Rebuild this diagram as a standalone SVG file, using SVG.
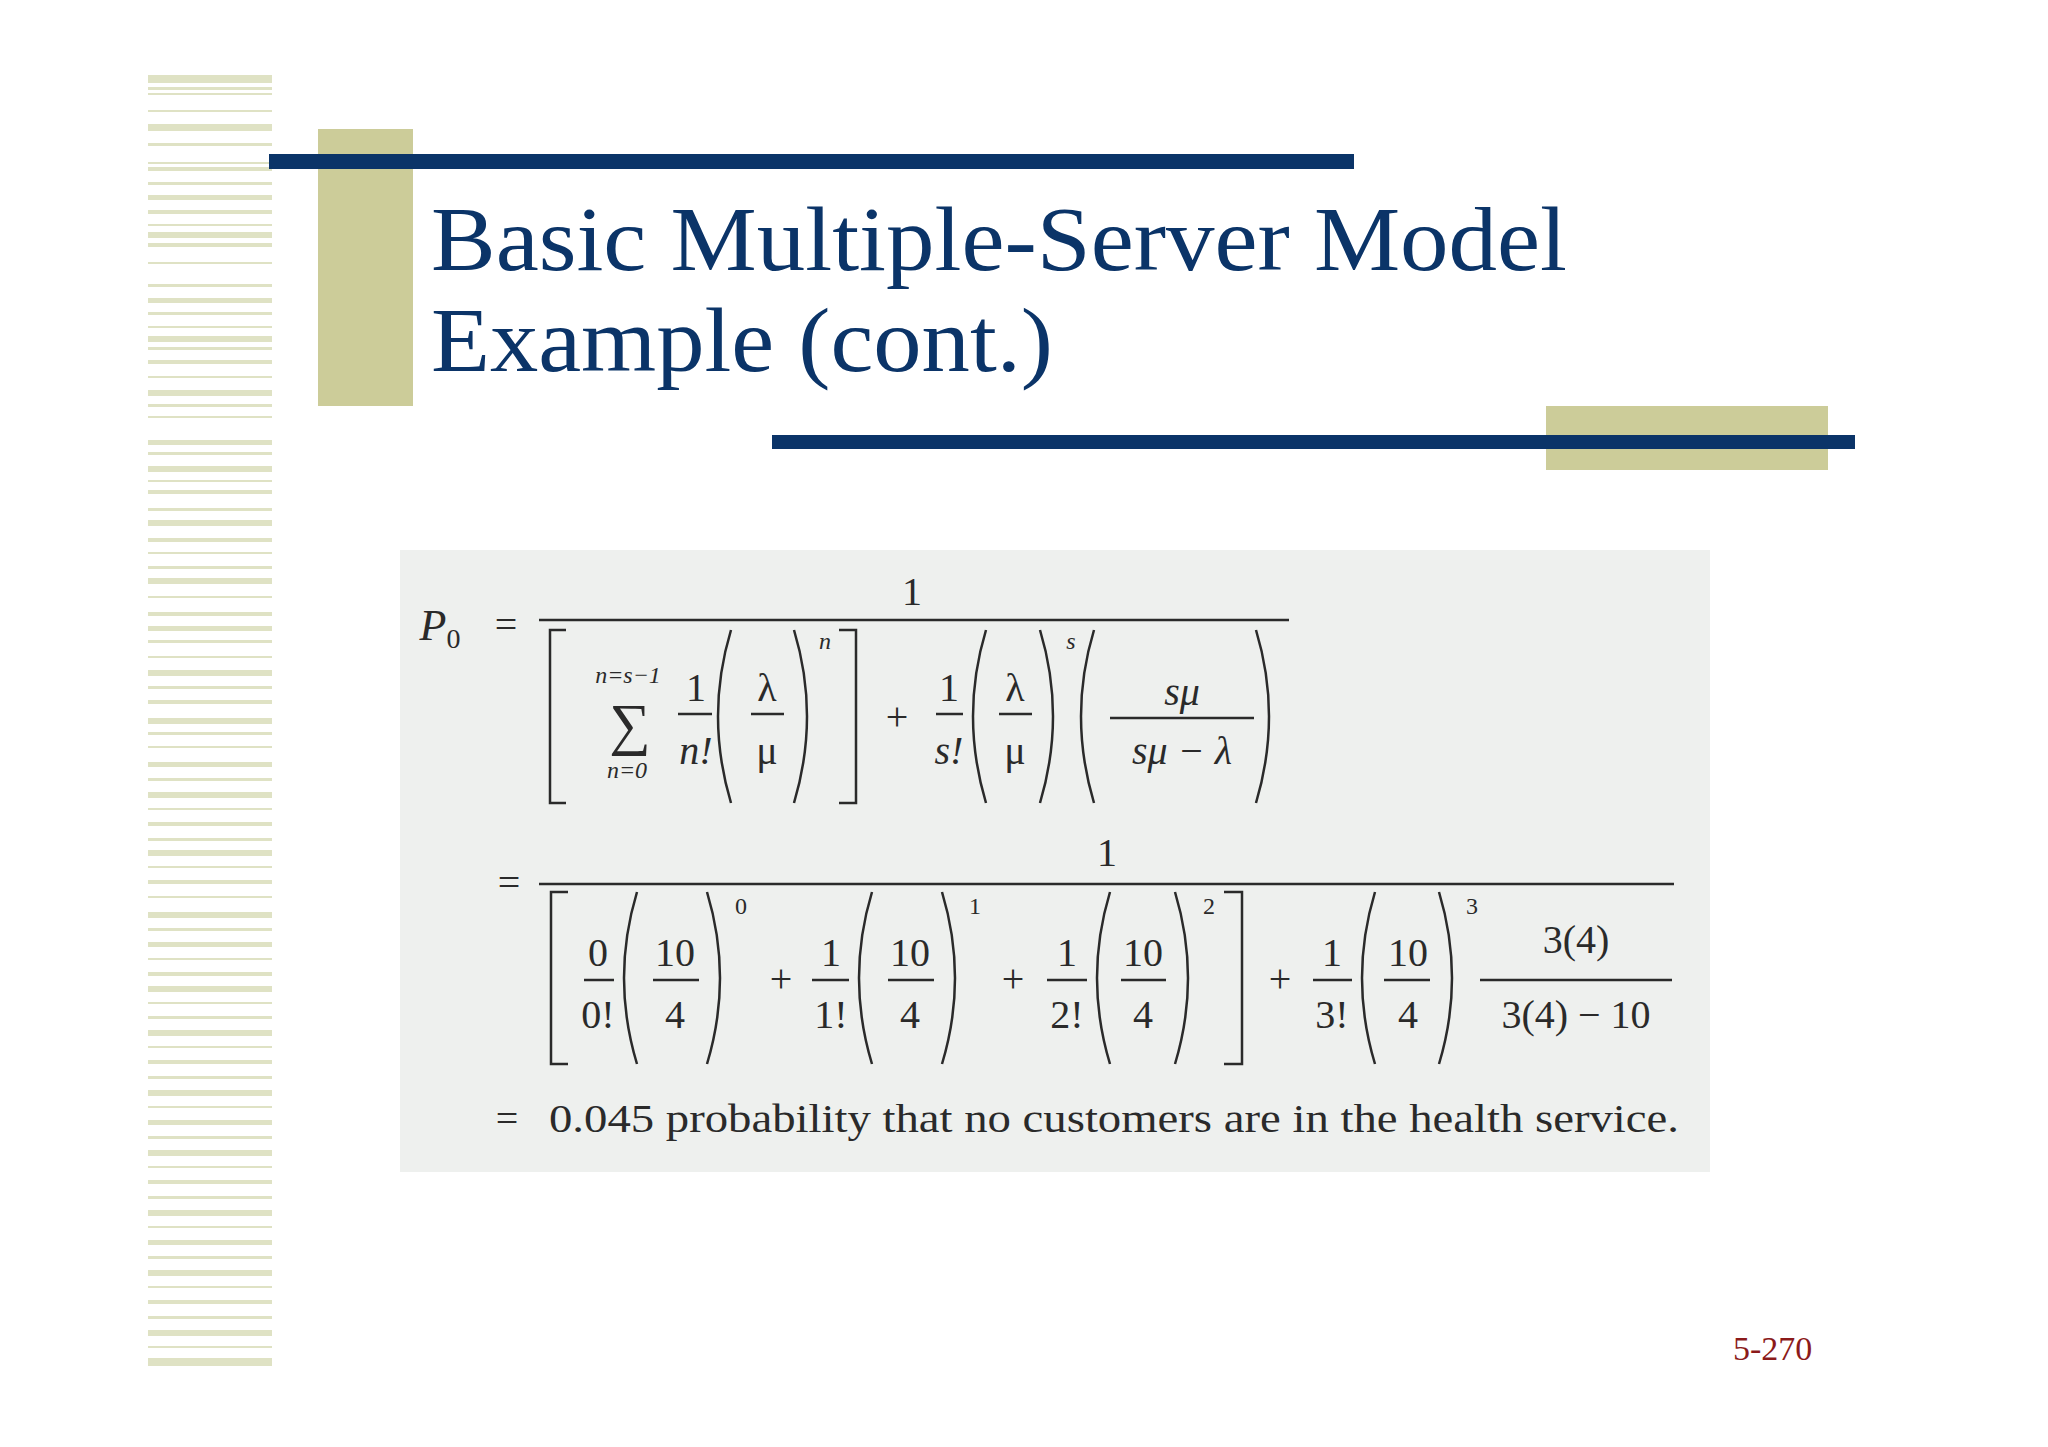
<svg xmlns="http://www.w3.org/2000/svg" width="2048" height="1447" viewBox="0 0 2048 1447">
<defs>
<style>
.s{fill:#dfe2c4}
.k{fill:#cccc99}
.b{fill:#0b3468}
.t{font-family:"Liberation Serif",serif;fill:#0b3468;font-size:92px}
.m{font-family:"Liberation Serif",serif;fill:#2a2a2a;font-size:40px;text-anchor:middle}
.i{font-style:italic}
.sm{font-size:24px}
.l{stroke:#2a2a2a;stroke-width:2.5;fill:none}
.p{stroke:#2a2a2a;stroke-width:2.5;fill:none}
</style>
</defs>
<rect width="2048" height="1447" fill="#fff"/>
<g id="stripes">
<rect class="s" x="148" y="75" width="124" height="8"/>
<rect class="s" x="148" y="87" width="124" height="3"/>
<rect class="s" x="148" y="93" width="124" height="2"/>
<rect class="s" x="148" y="110" width="124" height="2"/>
<rect class="s" x="148" y="124" width="124" height="7"/>
<rect class="s" x="148" y="143" width="124" height="3"/>
<rect class="s" x="148" y="162" width="124" height="2"/>
<rect class="s" x="148" y="167" width="124" height="4"/>
<rect class="s" x="148" y="182" width="124" height="3"/>
<rect class="s" x="148" y="195" width="124" height="5"/>
<rect class="s" x="148" y="210" width="124" height="4"/>
<rect class="s" x="148" y="224" width="124" height="2"/>
<rect class="s" x="148" y="232" width="124" height="6"/>
<rect class="s" x="148" y="243" width="124" height="4"/>
<rect class="s" x="148" y="262" width="124" height="2"/>
<rect class="s" x="148" y="284" width="124" height="3"/>
<rect class="s" x="148" y="298" width="124" height="5"/>
<rect class="s" x="148" y="312" width="124" height="3"/>
<rect class="s" x="148" y="326" width="124" height="2"/>
<rect class="s" x="148" y="336" width="124" height="6"/>
<rect class="s" x="148" y="347" width="124" height="3"/>
<rect class="s" x="148" y="360" width="124" height="4"/>
<rect class="s" x="148" y="376" width="124" height="2"/>
<rect class="s" x="148" y="390" width="124" height="6"/>
<rect class="s" x="148" y="404" width="124" height="3"/>
<rect class="s" x="148" y="416" width="124" height="2"/>
<rect class="s" x="148" y="440" width="124" height="5"/>
<rect class="s" x="148" y="452" width="124" height="3"/>
<rect class="s" x="148" y="466" width="124" height="6"/>
<rect class="s" x="148" y="480" width="124" height="2"/>
<rect class="s" x="148" y="490" width="124" height="4"/>
<rect class="s" x="148" y="508" width="124" height="3"/>
<rect class="s" x="148" y="520" width="124" height="6"/>
<rect class="s" x="148" y="538" width="124" height="4"/>
<rect class="s" x="148" y="552" width="124" height="2"/>
<rect class="s" x="148" y="566" width="124" height="3"/>
<rect class="s" x="148" y="578" width="124" height="6"/>
<rect class="s" x="148" y="596" width="124" height="2"/>
<rect class="s" x="148" y="612" width="124" height="4"/>
<rect class="s" x="148" y="626" width="124" height="5"/>
<rect class="s" x="148" y="640" width="124" height="3"/>
<rect class="s" x="148" y="656" width="124" height="2"/>
<rect class="s" x="148" y="670" width="124" height="6"/>
<rect class="s" x="148" y="686" width="124" height="3"/>
<rect class="s" x="148" y="700" width="124" height="4"/>
<rect class="s" x="148" y="718" width="124" height="6"/>
<rect class="s" x="148" y="732" width="124" height="3"/>
<rect class="s" x="148" y="746" width="124" height="2"/>
<rect class="s" x="148" y="762" width="124" height="5"/>
<rect class="s" x="148" y="778" width="124" height="3"/>
<rect class="s" x="148" y="792" width="124" height="6"/>
<rect class="s" x="148" y="808" width="124" height="2"/>
<rect class="s" x="148" y="822" width="124" height="4"/>
<rect class="s" x="148" y="838" width="124" height="3"/>
<rect class="s" x="148" y="850" width="124" height="6"/>
<rect class="s" x="148" y="866" width="124" height="2"/>
<rect class="s" x="148" y="880" width="124" height="4"/>
<rect class="s" x="148" y="896" width="124" height="2"/>
<rect class="s" x="148" y="912" width="124" height="6"/>
<rect class="s" x="148" y="928" width="124" height="3"/>
<rect class="s" x="148" y="942" width="124" height="5"/>
<rect class="s" x="148" y="958" width="124" height="2"/>
<rect class="s" x="148" y="972" width="124" height="4"/>
<rect class="s" x="148" y="986" width="124" height="6"/>
<rect class="s" x="148" y="1002" width="124" height="2"/>
<rect class="s" x="148" y="1016" width="124" height="3"/>
<rect class="s" x="148" y="1030" width="124" height="6"/>
<rect class="s" x="148" y="1046" width="124" height="2"/>
<rect class="s" x="148" y="1060" width="124" height="4"/>
<rect class="s" x="148" y="1076" width="124" height="3"/>
<rect class="s" x="148" y="1090" width="124" height="6"/>
<rect class="s" x="148" y="1106" width="124" height="2"/>
<rect class="s" x="148" y="1120" width="124" height="5"/>
<rect class="s" x="148" y="1136" width="124" height="3"/>
<rect class="s" x="148" y="1150" width="124" height="6"/>
<rect class="s" x="148" y="1166" width="124" height="2"/>
<rect class="s" x="148" y="1180" width="124" height="4"/>
<rect class="s" x="148" y="1196" width="124" height="3"/>
<rect class="s" x="148" y="1210" width="124" height="6"/>
<rect class="s" x="148" y="1226" width="124" height="2"/>
<rect class="s" x="148" y="1240" width="124" height="5"/>
<rect class="s" x="148" y="1256" width="124" height="3"/>
<rect class="s" x="148" y="1270" width="124" height="6"/>
<rect class="s" x="148" y="1286" width="124" height="2"/>
<rect class="s" x="148" y="1300" width="124" height="4"/>
<rect class="s" x="148" y="1316" width="124" height="3"/>
<rect class="s" x="148" y="1330" width="124" height="6"/>
<rect class="s" x="148" y="1346" width="124" height="2"/>
<rect class="s" x="148" y="1358" width="124" height="8"/>
</g>
<g id="decor">
<rect class="k" x="318" y="129" width="95" height="277"/>
<rect class="b" x="269" y="154" width="1085" height="15"/>
<rect class="k" x="1546" y="406" width="282" height="64"/>
<rect class="b" x="772" y="435" width="1083" height="14"/>
</g>
<g id="title">
<text class="t" x="431" y="270" textLength="1136" lengthAdjust="spacingAndGlyphs">Basic Multiple-Server Model</text>
<text class="t" x="431" y="371" textLength="622" lengthAdjust="spacingAndGlyphs">Example (cont.)</text>
</g>
<g id="formula">
<rect x="400" y="550" width="1310" height="622" fill="#eef0ee"/>
<text class="m i" x="440" y="640" style="font-size:44px">P<tspan style="font-style:normal;font-size:28px" dy="8">0</tspan></text>
<text class="m" x="506" y="638">=</text>
<line class="l" x1="539" y1="620" x2="1289" y2="620"/>
<text class="m" x="912" y="605">1</text>
<path class="l" d="M566 630 H550 V803 H566"/>
<text class="m i sm" x="628" y="683">n=s−1</text>
<text class="m" x="630" y="744" style="font-size:58px">∑</text>
<text class="m i sm" x="627" y="778">n=0</text>
<text class="m" x="696" y="701">1</text>
<line class="l" x1="678" y1="714" x2="712" y2="714"/>
<text class="m i" x="696" y="764">n!</text>
<path class="p" d="M731 630 Q705 716 731 803"/>
<text class="m" x="767" y="701">λ</text>
<line class="l" x1="751" y1="714" x2="784" y2="714"/>
<text class="m" x="767" y="764">μ</text>
<path class="p" d="M794 630 Q820 716 794 803"/>
<text class="m i sm" x="825" y="649">n</text>
<path class="l" d="M839 630 H856 V803 H839"/>
<text class="m" x="897" y="730">+</text>
<text class="m" x="949" y="701">1</text>
<line class="l" x1="936" y1="714" x2="963" y2="714"/>
<text class="m i" x="949" y="764">s!</text>
<path class="p" d="M986 630 Q960 716 986 803"/>
<text class="m" x="1015" y="701">λ</text>
<line class="l" x1="999" y1="714" x2="1032" y2="714"/>
<text class="m" x="1015" y="764">μ</text>
<path class="p" d="M1040 630 Q1066 716 1040 803"/>
<text class="m i sm" x="1071" y="649">s</text>
<path class="p" d="M1094 630 Q1068 716 1094 803"/>
<text class="m i" x="1182" y="705">sμ</text>
<line class="l" x1="1110" y1="718" x2="1254" y2="718"/>
<text class="m i" x="1182" y="764">sμ − λ</text>
<path class="p" d="M1256 630 Q1282 716 1256 803"/>
<text class="m" x="509" y="896">=</text>
<line class="l" x1="539" y1="884" x2="1674" y2="884"/>
<text class="m" x="1107" y="866">1</text>
<path class="l" d="M568 892 H551 V1064 H568"/>
<text class="m" x="598" y="966">0</text>
<line class="l" x1="584" y1="980" x2="614" y2="980"/>
<text class="m" x="598" y="1028">0!</text>
<path class="p" d="M637 892 Q611 978 637 1064"/>
<text class="m" x="675" y="966">10</text>
<line class="l" x1="653" y1="980" x2="699" y2="980"/>
<text class="m" x="675" y="1028">4</text>
<path class="p" d="M707 892 Q733 978 707 1064"/>
<text class="m sm" x="741" y="914">0</text>
<text class="m" x="781" y="992">+</text>
<text class="m" x="831" y="966">1</text>
<line class="l" x1="812" y1="980" x2="849" y2="980"/>
<text class="m" x="831" y="1028">1!</text>
<path class="p" d="M872 892 Q846 978 872 1064"/>
<text class="m" x="910" y="966">10</text>
<line class="l" x1="888" y1="980" x2="934" y2="980"/>
<text class="m" x="910" y="1028">4</text>
<path class="p" d="M942 892 Q968 978 942 1064"/>
<text class="m sm" x="975" y="914">1</text>
<text class="m" x="1013" y="992">+</text>
<text class="m" x="1067" y="966">1</text>
<line class="l" x1="1047" y1="980" x2="1087" y2="980"/>
<text class="m" x="1067" y="1028">2!</text>
<path class="p" d="M1110 892 Q1084 978 1110 1064"/>
<text class="m" x="1143" y="966">10</text>
<line class="l" x1="1121" y1="980" x2="1166" y2="980"/>
<text class="m" x="1143" y="1028">4</text>
<path class="p" d="M1175 892 Q1201 978 1175 1064"/>
<text class="m sm" x="1209" y="914">2</text>
<path class="l" d="M1224 892 H1242 V1064 H1224"/>
<text class="m" x="1280" y="992">+</text>
<text class="m" x="1332" y="966">1</text>
<line class="l" x1="1313" y1="980" x2="1352" y2="980"/>
<text class="m" x="1332" y="1028">3!</text>
<path class="p" d="M1375 892 Q1349 978 1375 1064"/>
<text class="m" x="1408" y="966">10</text>
<line class="l" x1="1384" y1="980" x2="1430" y2="980"/>
<text class="m" x="1408" y="1028">4</text>
<path class="p" d="M1439 892 Q1465 978 1439 1064"/>
<text class="m sm" x="1472" y="914">3</text>
<text class="m" x="1576" y="953">3(4)</text>
<line class="l" x1="1480" y1="980" x2="1672" y2="980"/>
<text class="m" x="1576" y="1028">3(4) − 10</text>
<text class="m" x="507" y="1132">=</text>
<text class="m" x="549" y="1132" style="text-anchor:start" textLength="1130" lengthAdjust="spacingAndGlyphs">0.045 probability that no customers are in the health service.</text>
</g>
<text id="pagenum" x="1733" y="1360" font-family="Liberation Serif, serif" font-size="34" fill="#8b1a1a">5-270</text>
</svg>
